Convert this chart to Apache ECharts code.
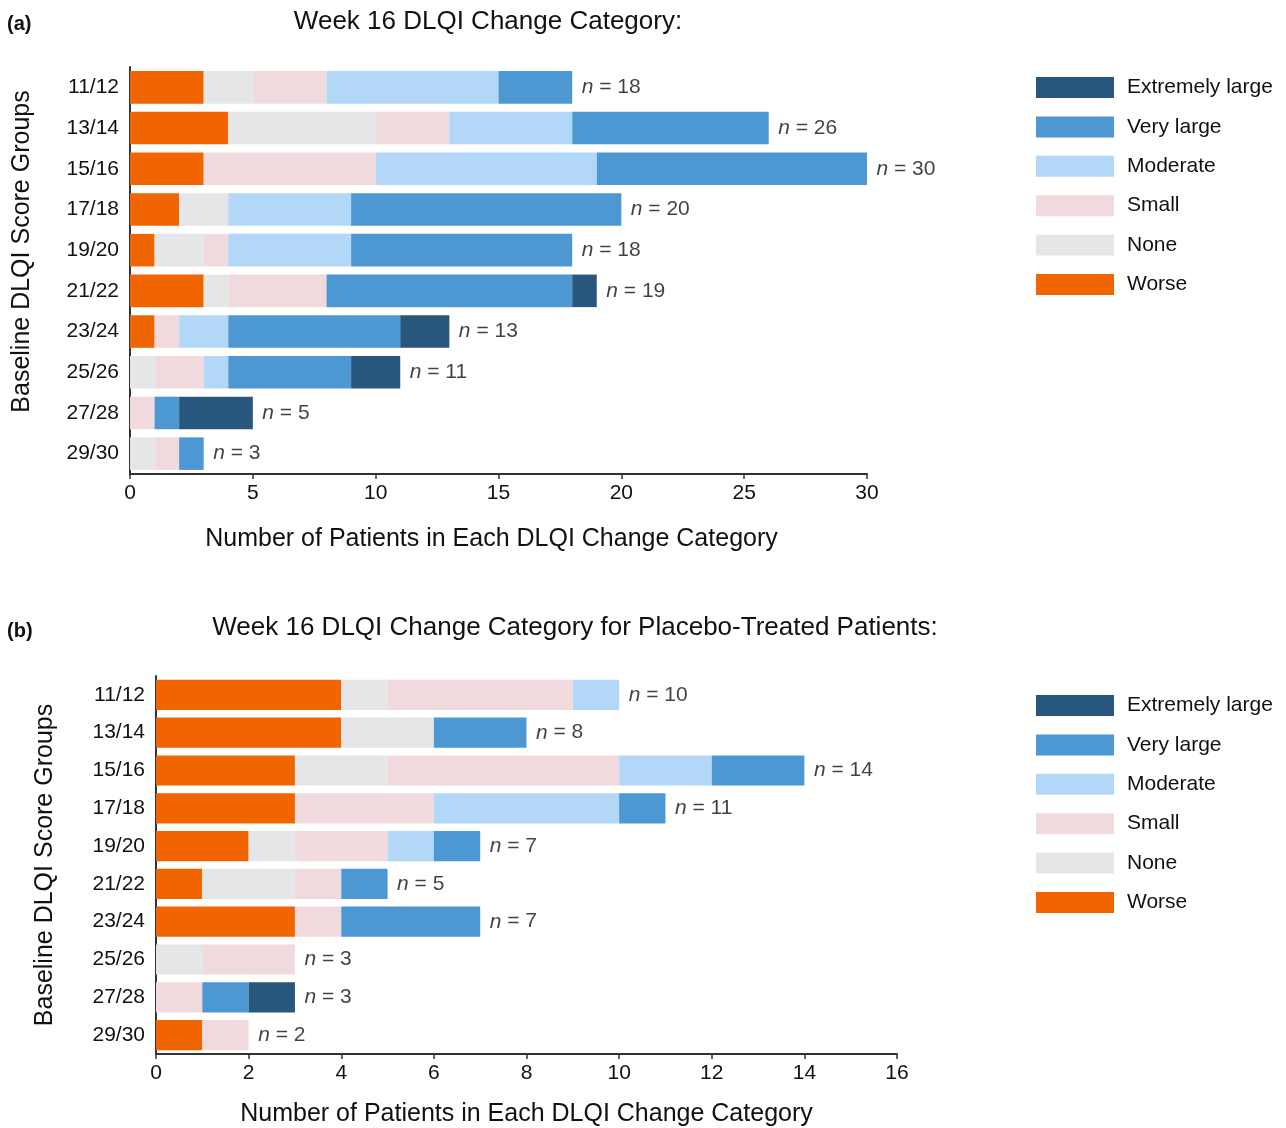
<!DOCTYPE html>
<html>
<head>
<meta charset="utf-8">
<script src="https://cdn.jsdelivr.net/npm/echarts@6/dist/echarts.min.js"></script>
<style>
html,body{margin:0;padding:0;background:#fff;}
#main{width:1286px;height:1128px;}
</style>
</head>
<body>
<div id="main"></div>
<script>
// Categories (baseline DLQI score groups)
const categories = ['11/12','13/14','15/16','17/18','19/20','21/22','23/24','25/26','27/28','29/30'];
const seriesNames = ['Worse','None','Small','Moderate','Very large','Extremely large'];
const legendOrder = ['Extremely large','Very large','Moderate','Small','None','Worse'];
const seriesColors = ['#f06500','#e5e6e8','#f1dadd','#b3d8f7','#4d98d2','#28567c'];

// Panel (a): all patients
const aWorse     = [3,4,3,2,1,3,1,0,0,0];
const aNone      = [2,6,0,2,2,1,0,1,0,1];
const aSmall     = [3,3,7,0,1,4,1,2,1,1];
const aModerate  = [7,5,9,5,5,0,2,1,0,0];
const aVeryLarge = [3,8,11,11,9,10,7,5,1,1];
const aExtreme   = [0,0,0,0,0,1,2,2,3,0];

// Panel (b): placebo-treated patients
const bWorse     = [4,4,3,3,2,1,3,0,0,1];
const bNone      = [1,2,2,0,1,2,0,1,0,0];
const bSmall     = [4,0,5,3,2,1,1,2,1,1];
const bModerate  = [1,0,2,4,1,0,0,0,0,0];
const bVeryLarge = [0,2,2,1,1,1,3,0,1,0];
const bExtreme   = [0,0,0,0,0,0,0,0,1,0];

const xTicksA = {min:0,max:30,interval:5};
const xTicksB = {min:0,max:16,interval:2};

const FONT = "'Liberation Sans', Arial, Helvetica, sans-serif";
const dataA = [aWorse,aNone,aSmall,aModerate,aVeryLarge,aExtreme];
const dataB = [bWorse,bNone,bSmall,bModerate,bVeryLarge,bExtreme];

function totals(arrs){
  return categories.map((c,i)=>arrs.reduce((s,a)=>s+a[i],0));
}

function barSeries(arrs, idx, stack){
  return arrs.map((d,k)=>({
    type:'bar', name:seriesNames[k], stack:stack,
    xAxisIndex:idx, yAxisIndex:idx,
    barWidth:'80%',
    itemStyle:{color:seriesColors[k]},
    emphasis:{disabled:true},
    data:d
  }));
}
function nSeries(arrs, idx){
  const t = totals(arrs);
  return {
    type:'scatter', xAxisIndex:idx, yAxisIndex:idx,
    symbolSize:1, itemStyle:{color:'rgba(0,0,0,0)'},
    silent:true,
    label:{
      show:true, position:'right', distance:9,
      formatter:(p)=>'{i|n} = '+p.value[0],
      color:'#111', fontSize:21, fontFamily:FONT,
      rich:{i:{fontStyle:'italic',fontSize:21,fontFamily:FONT,color:'#111'}}
    },
    data:t.map((v,i)=>[v,categories[i]])
  };
}

function xAxis(idx, ticks, gap, pad){
  return {
    type:'value', gridIndex:idx, min:ticks.min, max:ticks.max, interval:ticks.interval,
    name:'Number of Patients in Each DLQI Change Category',
    nameLocation:'middle', nameGap:gap,
    nameTextStyle:{fontSize:25,color:'#111',fontFamily:FONT,padding:pad},
    axisLine:{show:true,lineStyle:{color:'#333',width:2}},
    axisTick:{show:true,length:5,lineStyle:{color:'#333',width:1.5}},
    axisLabel:{fontSize:21,color:'#111',fontFamily:FONT,margin:9},
    splitLine:{show:false}
  };
}
function yAxis(idx, gap, pad){
  return {
    type:'category', gridIndex:idx, data:categories, inverse:true,
    name:'Baseline DLQI Score Groups',
    nameLocation:'middle', nameGap:gap, nameRotate:90,
    nameTextStyle:{fontSize:25,color:'#111',fontFamily:FONT,padding:pad},
    axisLine:{show:true,lineStyle:{color:'#333',width:2}},
    axisTick:{show:false},
    axisLabel:{fontSize:21,color:'#111',fontFamily:FONT,margin:11}
  };
}
function legend(top){
  return {
    orient:'vertical', left:1036, top:top, padding:0,
    itemWidth:78, itemHeight:21, itemGap:18.4,
    icon:'rect', selectedMode:false,
    data:legendOrder,
    textStyle:{fontSize:21,color:'#111',fontFamily:FONT,padding:[0,0,0,8]}
  };
}

const chart = echarts.init(document.getElementById('main'));
chart.setOption({
  animation:false,
  backgroundColor:'#fff',
  title:[
    {text:'(a)',left:7,top:14,padding:0,textStyle:{fontSize:20,fontWeight:'bold',color:'#111',fontFamily:FONT}},
    {text:'Week 16 DLQI Change Category:',left:488,top:9,padding:0,textAlign:'center',textStyle:{fontSize:26,fontWeight:'normal',color:'#111',fontFamily:FONT}},
    {text:'(b)',left:7,top:621,padding:0,textStyle:{fontSize:20,fontWeight:'bold',color:'#111',fontFamily:FONT}},
    {text:'Week 16 DLQI Change Category for Placebo-Treated Patients:',left:575,top:615,padding:0,textAlign:'center',textStyle:{fontSize:26,fontWeight:'normal',color:'#111',fontFamily:FONT}}
  ],
  legend:[legend(77), legend(695)],
  grid:[
    {left:130, top:67, width:737, height:407, containLabel:false},
    {left:156, top:676, width:741, height:378, containLabel:false}
  ],
  xAxis:[xAxis(0,xTicksA,53,[0,14,0,0]), xAxis(1,xTicksB,48,0)],
  yAxis:[yAxis(0,95,[0,0,0,38]), yAxis(1,98,0)],
  series:[].concat(
    barSeries(dataA,0,'a'), [nSeries(dataA,0)],
    barSeries(dataB,1,'b'), [nSeries(dataB,1)]
  )
});
</script>
</body>
</html>
